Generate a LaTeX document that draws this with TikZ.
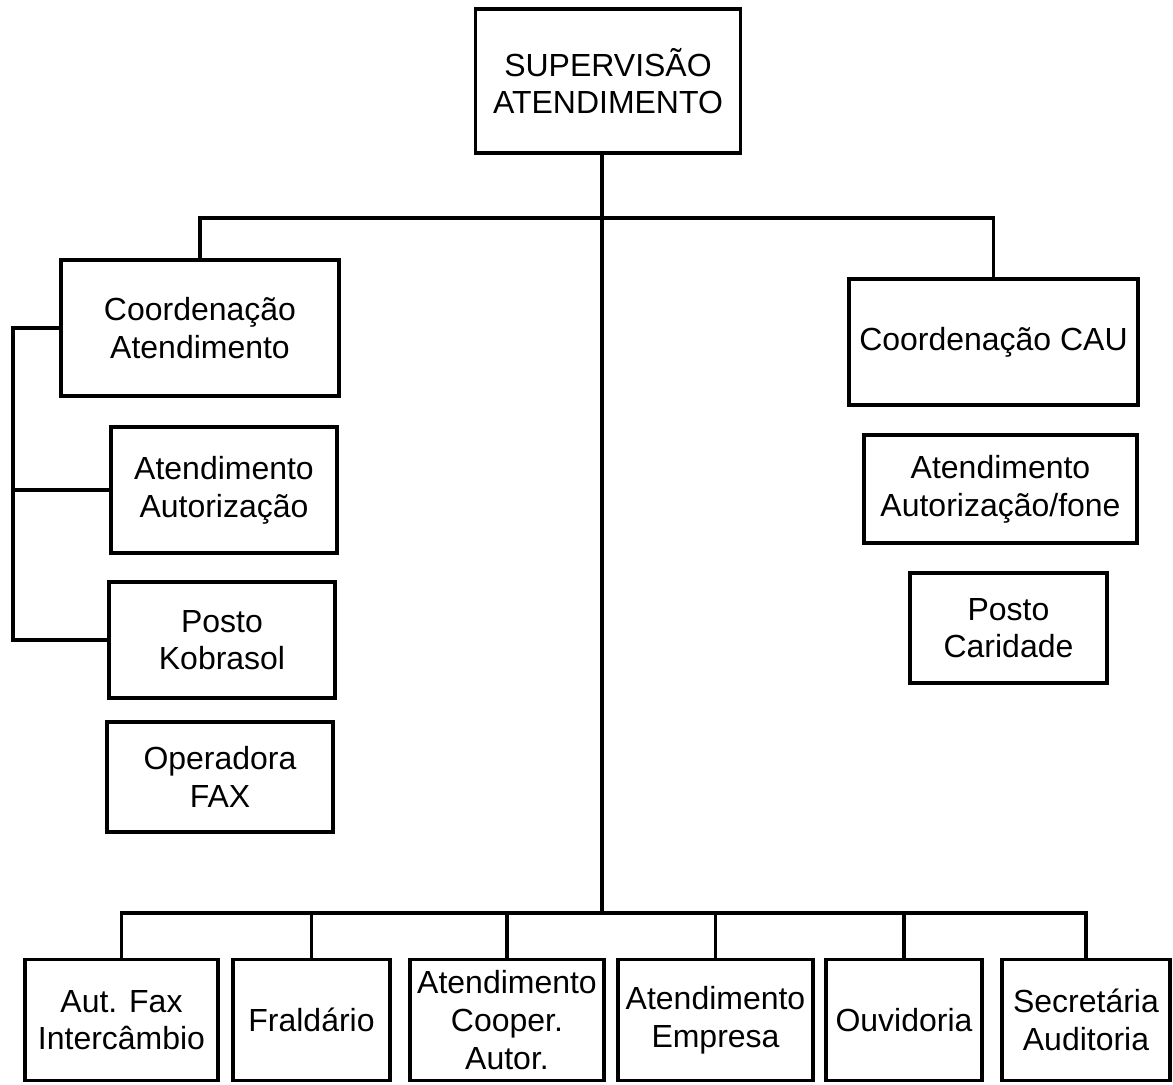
\documentclass[tikz,border=0pt]{standalone}
\usepackage{fontspec}
\setmainfont{Liberation Sans}
\usepackage{tikz}
\usetikzlibrary{positioning,calc}

\begin{document}
\begin{tikzpicture}[
    font=\fontsize{18.2pt}{21.4pt}\selectfont,
    box/.style={
        draw=black,
        line width=2.1pt,
        inner sep=2pt,
        align=center,
        fill=white
    },
    link/.style={draw=black, line width=2.0pt}
]

\useasboundingbox (0,0) rectangle (23.46,-21.70);

% top
\node[box, minimum width=5.30cm, minimum height=2.88cm] (sup) at (12.16,-1.62)
{SUPERVISÃO\\ATENDIMENTO};

% second level
\node[box, minimum width=5.56cm, minimum height=2.72cm] (coordat) at (4.00,-6.56)
{Coordenação\\Atendimento};
\node[box, minimum width=5.78cm, minimum height=2.52cm] (coordcau) at (19.87,-6.84)
{Coordenação CAU};

% left column
\node[box, minimum width=4.52cm, minimum height=2.52cm] (autaut) at (4.48,-9.80)
{Atendimento\\Autorização};
\node[box, minimum width=4.52cm, minimum height=2.32cm] (kobrasol) at (4.44,-12.80)
{Posto\\Kobrasol};
\node[box, minimum width=4.52cm, minimum height=2.20cm] (fax) at (4.40,-15.54)
{Operadora\\FAX};

% right column
\node[box, minimum width=5.46cm, minimum height=2.16cm] (autfone) at (20.01,-9.78)
{Atendimento\\Autorização/fone};
\node[box, minimum width=3.94cm, minimum height=2.20cm] (caridade) at (20.17,-12.56)
{Posto\\Caridade};

% bottom row
\node[box, minimum width=3.86cm, minimum height=2.42cm] (autfax) at (2.43,-20.40)
{Aut. Fax\\Intercâmbio};
\node[box, minimum width=3.14cm, minimum height=2.42cm] (fraldario) at (6.23,-20.40)
{Fraldário};
\node[box, minimum width=3.88cm, minimum height=2.42cm] (cooper) at (10.14,-20.40)
{Atendimento\\Cooper.\\Autor.};
\node[box, minimum width=3.90cm, minimum height=2.42cm] (empresa) at (14.31,-20.40)
{Atendimento\\Empresa};
\node[box, minimum width=3.12cm, minimum height=2.42cm] (ouvidoria) at (18.08,-20.40)
{Ouvidoria};
\node[box, minimum width=3.36cm, minimum height=2.42cm] (secretaria) at (21.72,-20.40)
{Secretária\\Auditoria};

% buses
\coordinate (topbus) at (12.04,-4.36);
\coordinate (lowbus) at (12.04,-18.26);
\coordinate (rail) at (0.26,-6.56);

\draw[link] (sup.south -| topbus) -- (lowbus);
\draw[link] (coordat.north) |- (topbus) -| (coordcau.north);

\draw[link] (coordat.west) -| (rail |- kobrasol.west) -- (kobrasol.west);
\draw[link] (autaut.west) -- (autaut.west -| rail);

\draw[link] (autfax.north) |- (lowbus) -| (secretaria.north);
\foreach \n in {fraldario,cooper,empresa,ouvidoria}
    \draw[link] (\n.north) -- (\n.north |- lowbus);

\end{tikzpicture}
\end{document}
